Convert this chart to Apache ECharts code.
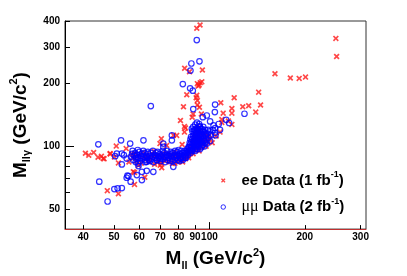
<!DOCTYPE html>
<html>
<head>
<meta charset="utf-8">
<script src="https://cdn.jsdelivr.net/npm/echarts/dist/echarts.min.js"></script>
<style>
html,body{margin:0;padding:0;background:#fff;}
#chart{width:407px;height:276px;}
</style>
</head>
<body>
<div id="chart"></div>
<script>
// Tick values
const xTickLabels = [40, 50, 60, 70, 80, 90, 100, 200, 300];
const xMinorTicks = [40, 50, 60, 70, 80, 90, 200, 300];
const xMajorTicks = [100];
const yTickLabels = [50, 100, 200, 300, 400];
const yMinorTicks = [50, 60, 70, 80, 90, 200, 300, 400];
const yMajorTicks = [100];

// ee Data (1 fb^-1): [M_ll, M_llgamma]
const eeData = [
  [40.6,92.6],[41.6,90.6],[43.1,93.3],[44.5,88.6],[45.6,89.6],[46.5,87.0],[48.6,91.8],[50.8,100.2],[50.1,88.9],
  [51.6,83.2],[54.6,97.5],[55.7,84.0],[56.9,91.9],[58.0,74.8],[58.0,65.6],[47.6,61.2],[51.6,59.1],[62.5,71.0],
  [66.9,94.6],[69.9,81.1],[70.7,78.8],[70.5,108.8],[69.8,103],[73.3,101],[77.5,94],[82.0,102],[76.4,82.6],
  [59.7,81.1],[57.5,75.4],[48.6,92.3],[46.2,87.3],[77.0,112.9],
  [91.2,369],[93.4,383],[250.6,330],[252,270],[161,223],[180,213],[192,212],[201,215],[143,182],[145,158],
  [119.7,171],[108.6,162],[117.7,152],[117.7,144.3],[127.4,155],[133,156.5],[140,146],[110.5,144.3],
  [109.4,134.6],[117.7,127.4],[109.4,130.2],[114.8,132.2],
  [83.5,237],[86.5,228],[95,232.7],[91.6,200],[92.8,197],[93.5,202],[94.6,204],[92.2,195],[84.8,177],
  [91.2,176],[90.8,171],[91.6,166],[82.8,155],[91.6,158],[93,154],[81,133],[88.2,138],[94.3,143],
  [84,122.4],[83.4,117],[78.8,112.8],[88.8,143],[83.4,124.5],[93,117.9],[95.7,106.8],[98,105.6],
  [57.5,88],[58.7,85],[59.8,90],[60.9,83],[62.1,87],[63.4,91],[64.5,84],[65.8,88],[67.1,82],[68.2,90],
  [69.4,86],[70.3,83],[71.4,89],[72.6,85],[73.7,92],[74.9,84],[76,88],[77.3,86],[78.4,90],[79.5,84],
  [80.7,89],[81.8,86],[82.9,91],[84,87],[85,93],
  [58.2,92],[61.5,93],[64,88],[66.5,91],[68.8,84],[71,92],[73,87],[75.5,91],[77.8,83],[80,87],
  [82.3,84],[83.5,89],[86,88],[88.8,92],
  [85.7,90],[86.4,96],[87,92],[87.6,100],[88.1,94],[88.5,104],[89,97],[89.3,109],[89.8,101],[90.2,113],
  [90.6,96],[91,106],[91.4,118],[91.8,100],[92.3,110],[92.8,95],[93.2,104],[93.7,114],[94.3,99],[95,108],
  [95.8,103],[96.7,111],[97.6,100],[98.7,106],[100.2,109],[102,104],[105,112],[108,117],
  [90,105],[91.2,111],[92,122],[93.5,109],[94.8,104],[96.2,116],[99.5,112]
];

// mumu Data (2 fb^-1): [M_ll, M_llgamma]
const mumuData = [
  [91.2,324],[93,256],[87.7,250],[87.1,231],[82.4,199],[86.9,190],[88.6,185],[65.3,156],[88.9,151],
  [104.2,158.6],[104,146],[98.1,140.6],[95.3,138],[129,143.3],[112.9,134],[115.4,129.4],[104.2,122.3],
  [100.5,131.6],[103,126],[104.5,112.9],[76.1,112.9],[76.1,106.8],[71.5,99.3],[61.9,106.8],[56.2,103],
  [52.6,106.8],[44.6,102.2],[44.9,67.6],[47.7,54.3],[50.1,62.3],[51.3,62.8],[52.9,63.0],[54.8,70.6],
  [55.5,71.9],[56.4,67.6],[55.1,72.3],[59.7,80.3],[61.2,75.4],[61.2,68.8],[63.4,76.2],[66.5,75.4],
  [59.6,82.6],[52.9,81.8],[50.4,89.6],[51,92.3],[52.9,92.3],[53.7,90.6],[54.8,87.3],[63.4,84.2],
  [68.2,85.7],[76.9,79.7],[80.8,88],[83.8,88],[90.8,115.8],[88,121.4],[93.4,123.7],[71.5,103],
  [59,72.7],[108,120],[107,128],
  [56.5,89],[57,92],[57.5,86],[58,90],[58.3,93],[58.8,87],[59.2,91],[59.6,88],[60,94],[60.3,85],
  [60.8,90],[61.2,92],[61.5,87],[62,89],[62.4,93],[62.8,84],[63.2,90],[63.6,88],[64,92],[64.4,86],
  [64.9,90],[65.3,93],[65.7,87],[66.1,89],[66.6,84],[67,91],[67.4,88],[67.9,93],[68.3,86],[68.8,90],
  [69.2,88],[69.7,92],[70.1,85],[70.6,89],[71,91],[71.5,87],[72,93],[72.4,84],[72.9,89],[73.3,91],
  [73.8,86],[74.3,88],[74.8,92],[75.2,85],[75.7,90],[76.2,87],[76.7,93],[77.1,89],[77.6,86],[78.1,91],
  [78.6,88],[79.1,94],[79.6,86],[80.1,90],[80.6,92],[81.1,87],[81.6,89],[82.1,93],[82.6,88],[83.1,91],
  [83.6,95],[84.1,90],[84.6,93],[85.1,97],[85.5,91],
  [57.2,95],[58.5,84],[59.4,96],[60.6,88],[61.8,95],[62.6,86],[63.9,94],[65,85],[66.3,95],[67.7,90],
  [68.6,94],[69.9,87],[71.2,95],[72.2,89],[73.5,95],[74.5,90],[75.4,94],[76.5,85],[77.9,95],[78.9,90],
  [79.9,96],[80.4,85],[81.4,95],[82.4,86],[83.4,93],[84.4,88],[85.3,95],[85.9,99],
  [85.8,94],[86.2,99],[86.5,96],[86.9,102],[87.2,93],[87.4,98],[87.7,105],[87.9,100],[88.2,95],[88.3,108],
  [88.6,103],[88.8,112],[89,98],[89.2,106],[89.4,115],[89.6,101],[89.8,110],[90,95],[90,119],[90.3,104],
  [90.5,113],[90.7,99],[90.9,108],[91.1,122],[91.2,102],[91.4,116],[91.6,97],[91.8,111],[92,105],[92.2,119],
  [92.4,100],[92.6,114],[92.9,108],[93.1,125],[93.3,103],[93.6,117],[93.9,110],[94.2,99],[94.5,106],[94.8,121],
  [95.1,113],[95.5,102],[95.9,109],[96.3,117],[96.8,104],[97.3,112],[97.9,107],[98.5,115],[99.2,110],[100,118],
  [101,113],[102.5,120],[104,116],
  [86.6,104],[87.1,108],[87.5,111],[87.8,96],[88.4,118],[88.9,124],[89.1,103],[89.5,120],[89.9,106],[90.2,127],
  [90.4,97],[90.8,111],[91,117],[91.3,130],[91.5,107],[91.9,121],[92.1,102],[92.5,108],[92.8,128],[93,112],
  [93.4,97],[93.7,121],[94,105],[94.4,114],[94.7,101],[95.2,118],[95.6,124],[96,106],[96.5,100],[97,120],
  [97.6,115],[98.2,103],[99,120],[100.5,106]
];

const FONT = "'Liberation Sans', Arial, Helvetica, sans-serif";
const crossPath = 'path://M0,2L2,0L5,3L8,0L10,2L7,5L10,8L8,10L5,7L2,10L0,8L3,5Z';

const titleRich = {
  m: {fontSize: 19, fontWeight: 'bold', fontFamily: FONT, color: '#000', lineHeight: 24, verticalAlign: 'middle'},
  s: {fontSize: 11, fontWeight: 'bold', fontFamily: FONT, color: '#000', lineHeight: 10, verticalAlign: 'bottom'},
  sup: {fontSize: 11, fontWeight: 'bold', fontFamily: FONT, color: '#000', lineHeight: 10, verticalAlign: 'top'}
};

const chart = echarts.init(document.getElementById('chart'), null, {renderer: 'canvas'});
chart.setOption({
  animation: false,
  backgroundColor: '#fff',
  grid: {left: 65, right: 41, top: 21, bottom: 45, show: true, borderColor: '#333', borderWidth: 1, backgroundColor: 'transparent'},
  legend: {
    data: [
      {name: 'ee', icon: crossPath, itemStyle: {color: '#ff1a1a', borderWidth: 0}},
      {name: 'mumu', icon: 'circle', itemStyle: {color: 'rgba(255,255,255,0)', borderColor: '#0000ff', borderWidth: 1}}
    ],
    orient: 'vertical',
    left: 220.5,
    top: 170.5,
    padding: 0,
    itemWidth: 4.5,
    itemHeight: 4.5,
    itemGap: 9,
    selectedMode: false,
    formatter: function (name) {
      return name === 'ee'
        ? '{e0|ee Data (1 fb}{sup|-1}{b|)}'
        : '{mu|\u03bc\u03bc}{b| Data (2 fb}{sup|-1}{b|)}';
    },
    textStyle: {
      rich: {
        e0: {fontSize: 15, fontWeight: 'bold', fontFamily: FONT, color: '#000', lineHeight: 20, padding: [0, 0, 0, 11]},
        b: {fontSize: 15, fontWeight: 'bold', fontFamily: FONT, color: '#000', lineHeight: 20},
        mu: {fontSize: 16, fontWeight: 'normal', fontFamily: "'Liberation Serif', serif", color: '#000', lineHeight: 20, padding: [0, 0, 0, 11]},
        sup: {fontSize: 9, fontWeight: 'bold', fontFamily: FONT, color: '#000', lineHeight: 10, verticalAlign: 'top'}
      }
    }
  },
  xAxis: [
    {
      type: 'log', logBase: 10, min: 35, max: 312, position: 'bottom',
      name: '{m|M}{s|ll}{m| (GeV/c}{sup|2}{m|)}',
      nameLocation: 'middle', nameGap: 15,
      nameTextStyle: {rich: titleRich},
      axisLine: {show: true, lineStyle: {color: '#c03030', width: 1}},
      axisTick: {show: true, inside: true, length: 7, customValues: xMajorTicks, lineStyle: {color: '#000'}},
      axisLabel: {show: true, customValues: xTickLabels, fontSize: 10, fontWeight: 'bold', fontFamily: FONT, color: '#000', margin: 3},
      splitLine: {show: false}, minorTick: {show: false}, minorSplitLine: {show: false}
    },
    {
      type: 'log', logBase: 10, min: 35, max: 312, position: 'bottom',
      axisLine: {show: false},
      axisTick: {show: true, inside: true, length: 4, customValues: xMinorTicks, lineStyle: {color: '#000'}},
      axisLabel: {show: false},
      splitLine: {show: false}
    }
  ],
  yAxis: [
    {
      type: 'log', logBase: 10, min: 40, max: 400, position: 'left',
      name: '{m|M}{s|ll\u03b3}{m| (GeV/c}{sup|2}{m|)}',
      nameLocation: 'middle', nameGap: 17, nameRotate: 90,
      nameTextStyle: {rich: titleRich},
      axisLine: {show: true, lineStyle: {color: '#000', width: 1}},
      axisTick: {show: true, inside: true, length: 9, customValues: yMajorTicks, lineStyle: {color: '#000'}},
      axisLabel: {show: true, customValues: yTickLabels, fontSize: 10, fontWeight: 'bold', fontFamily: FONT, color: '#000', margin: 5},
      splitLine: {show: false}, minorTick: {show: false}, minorSplitLine: {show: false}
    },
    {
      type: 'log', logBase: 10, min: 40, max: 400, position: 'left',
      axisLine: {show: false},
      axisTick: {show: true, inside: true, length: 5, customValues: yMinorTicks, lineStyle: {color: '#000'}},
      axisLabel: {show: false},
      splitLine: {show: false}
    }
  ],
  series: [
    {
      type: 'scatter', name: 'ee', data: eeData, xAxisIndex: 0, yAxisIndex: 0,
      symbol: crossPath, symbolSize: 6, z: 2,
      itemStyle: {color: '#ff1a1a'}
    },
    {
      type: 'scatter', name: 'mumu', data: mumuData, xAxisIndex: 0, yAxisIndex: 0,
      symbol: 'circle', symbolSize: 5.5, z: 3,
      itemStyle: {color: 'rgba(255,255,255,0)', borderColor: '#0000ff', borderWidth: 1.2}
    }
  ]
});
</script>
</body>
</html>
